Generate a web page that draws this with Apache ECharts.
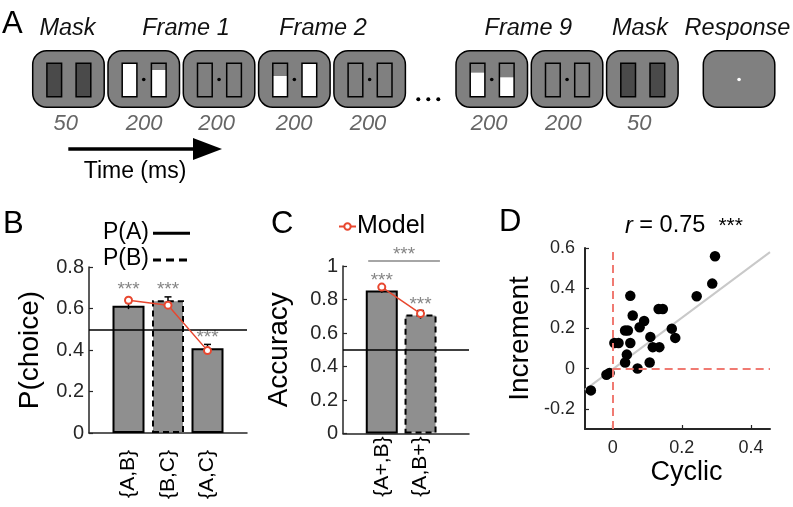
<!DOCTYPE html>
<html><head><meta charset="utf-8">
<script src="https://cdn.jsdelivr.net/npm/echarts@6/dist/echarts.min.js"></script>
<style>html,body{margin:0;padding:0;background:#fff}#c{width:793px;height:507px}</style>
</head><body><div id="c"></div>
<script>
// ---------- Panel A (schematic) ----------
const frameTitles = ['Mask', 'Frame 1', 'Frame 2', 'Frame 9', 'Mask', 'Response'];
const frameKinds = ['mask', 'stim', 'blank', 'stim', 'blank', 'stim', 'blank', 'mask', 'response'];
const durations = ['50', '200', '200', '200', '200', '200', '200', '50'];
const stimGrayTop = [[0.0, 0.2], [0.38, 0.0], [0.28, 0.42]];
const timeLabel = 'Time (ms)';

// ---------- Panel B ----------
const catsB = ['{A,B}', '{B,C}', '{A,C}'];
const barB = [0.613, 0.64, 0.408];
const errB = [0.016, 0.016, 0.019];
const modelB = [0.64, 0.616, 0.397];
const dashedB = [false, true, false];
const starYB = [0.69, 0.69, 0.458];
const chanceB = 0.5;
const legendB = ['P(A)', 'P(B)'];

// ---------- Panel C ----------
const catsC = ['{A+,B}', '{A,B+}'];
const barC = [0.853, 0.71];
const errC = [0.012, 0.024];
const modelC = [0.874, 0.716];
const dashedC = [false, true];
const starYC = [0.912, 0.767];
const chanceC = 0.5;
const bracketC = {x1: 0.65, x2: 2.5, y: 1.03, starY: 1.065};

// ---------- Panel D ----------
const cyclic = [0.296, 0.288, 0.243, 0.051, 0.133, 0.145, 0.058, 0.091, 0.078, 0.036, 0.044, 0.171, 0.181, 0.109, 0.005, 0.017, 0.051, 0.116, 0.135, 0.041, 0.036, 0.107, 0.072, -0.018, -0.009, -0.063];
const increment = [0.559, 0.423, 0.36, 0.362, 0.297, 0.297, 0.264, 0.237, 0.206, 0.19, 0.19, 0.199, 0.153, 0.158, 0.128, 0.128, 0.128, 0.107, 0.107, 0.07, 0.031, 0.031, 0.001, -0.03, -0.021, -0.108];
const fitSlope = 1.28, fitIntercept = -0.003;
const rText = '0.75';
const xRangeD = [-0.08, 0.455];
const yRangeD = [-0.3, 0.6];
const xTicksD = [0, 0.2, 0.4];
const yTicksD = [-0.2, 0, 0.2, 0.4, 0.6];

// ---------- styling ----------
const FF = '"Liberation Sans", Arial, Helvetica, sans-serif';
const AX = '#262626';
const RED = '#e8472f';
const BARFILL = '#8f8f8f';
const STAR = '#666666';

const chart = echarts.init(document.getElementById('c'), null, {renderer: 'canvas'});

// Panel A graphic
const G = [];
const BW = 71.5, BH = 56.5, BY = 50.7, STEP = 75.3;
const lefts = [];
for (let i = 0; i < 5; i++) lefts.push(32.7 + i * STEP);
for (let i = 0; i < 3; i++) lefts.push(456 + i * STEP);
lefts.push(703.3);
let stimIdx = 0;
frameKinds.forEach((k, i) => {
  const L = lefts[i];
  G.push({type: 'rect', shape: {x: L, y: BY, width: BW, height: BH, r: 14},
    style: {fill: '#808080', stroke: '#000', lineWidth: 1.5}});
  const cx = L + BW / 2, cy = BY + BH / 2 + 0.5;
  const rx = [L + 14.2, L + 43.4], ry = 63.3, rw = 14.7, rh = 33.4;
  if (k === 'mask') {
    rx.forEach(x => G.push({type: 'rect', shape: {x, y: ry, width: rw, height: rh},
      style: {fill: '#4a4a4a', stroke: '#000', lineWidth: 1.5}}));
  } else if (k === 'blank') {
    rx.forEach(x => G.push({type: 'rect', shape: {x, y: ry, width: rw, height: rh},
      style: {fill: 'none', stroke: '#000', lineWidth: 1.5}}));
    G.push({type: 'circle', shape: {cx, cy, r: 1.8}, style: {fill: '#000'}});
  } else if (k === 'stim') {
    const fr = stimGrayTop[stimIdx++];
    rx.forEach((x, j) => {
      G.push({type: 'rect', shape: {x, y: ry, width: rw, height: rh}, style: {fill: '#fff'}});
      if (fr[j] > 0) G.push({type: 'rect', shape: {x, y: ry, width: rw, height: rh * fr[j]}, style: {fill: '#808080'}});
      G.push({type: 'rect', shape: {x, y: ry, width: rw, height: rh}, style: {fill: 'none', stroke: '#000', lineWidth: 1.5}});
    });
    G.push({type: 'circle', shape: {cx, cy, r: 1.8}, style: {fill: '#000'}});
  } else if (k === 'response') {
    G.push({type: 'circle', shape: {cx, cy, r: 1.8}, style: {fill: '#fff'}});
  }
});
// ellipsis
[418.3, 428.3, 438.3].forEach(x => G.push({type: 'circle', shape: {cx: x, cy: 99.3, r: 2}, style: {fill: '#000'}}));
// titles
const titleX = [67.5, 186, 323, 528.3, 640, 737.5];
frameTitles.forEach((t, i) => G.push({type: 'text', style: {text: t, x: titleX[i], y: 28,
  font: 'italic 23.5px ' + FF, fill: '#111', align: 'center', verticalAlign: 'middle'}}));
const durX = [65.8, 144.2, 216.7, 294.2, 368, 489.2, 563.3, 639.2];
durations.forEach((t, i) => G.push({type: 'text', style: {text: t, x: durX[i], y: 124,
  font: 'italic 22px ' + FF, fill: '#666', align: 'center', verticalAlign: 'middle'}}));
// arrow
G.push({type: 'line', shape: {x1: 68.3, y1: 149, x2: 200, y2: 149}, style: {stroke: '#000', lineWidth: 3.5}});
G.push({type: 'polygon', shape: {points: [[193, 138], [222, 149], [193, 160]]}, style: {fill: '#000'}});
G.push({type: 'text', style: {text: timeLabel, x: 135, y: 172, font: '23px ' + FF, fill: '#000', align: 'center', verticalAlign: 'middle'}});
// panel letters
[['A', 2, 24], ['B', 3, 224], ['C', 271, 224], ['D', 499, 222]].forEach(([t, x, y]) =>
  G.push({type: 'text', style: {text: t, x, y, font: '31px ' + FF, fill: '#000', align: 'left', verticalAlign: 'middle'}}));
// B legend
G.push({type: 'text', style: {text: legendB[0], x: 103, y: 233, font: '23px ' + FF, fill: '#000', align: 'left', verticalAlign: 'middle'}});
G.push({type: 'line', shape: {x1: 153, y1: 233.3, x2: 190, y2: 233.3}, style: {stroke: '#000', lineWidth: 3}});
G.push({type: 'text', style: {text: legendB[1], x: 103, y: 259, font: '23px ' + FF, fill: '#000', align: 'left', verticalAlign: 'middle'}});
G.push({type: 'line', shape: {x1: 153, y1: 260, x2: 190, y2: 260}, style: {stroke: '#000', lineWidth: 3, lineDash: [8, 5]}});
// D r label
G.push({type: 'text', style: {text: '{i|r} = ' + rText + '  {s|***}', x: 625, y: 226, font: '23.5px ' + FF, fill: '#000',
  align: 'left', verticalAlign: 'middle',
  rich: {i: {fontStyle: 'italic', fontSize: 23.5, fontFamily: FF}, s: {fontSize: 21, fontFamily: FF}}}});

function errSeries(xi, yi, vals, errs) {
  return {
    type: 'custom', xAxisIndex: xi, yAxisIndex: yi, silent: true, z: 3,
    data: vals.map((v, i) => [i + 1, v - errs[i], v + errs[i]]),
    renderItem: (params, api) => {
      const lo = api.coord([api.value(0), api.value(1)]);
      const hi = api.coord([api.value(0), api.value(2)]);
      const s = {stroke: '#000', lineWidth: 1.5};
      return {type: 'group', children: [
        {type: 'line', shape: {x1: hi[0], y1: lo[1], x2: hi[0], y2: hi[1]}, style: s},
        {type: 'line', shape: {x1: hi[0] - 3.5, y1: hi[1], x2: hi[0] + 3.5, y2: hi[1]}, style: s}
      ]};
    }
  };
}
function barSeries(xi, yi, vals, dashed, chance) {
  return {
    type: 'bar', xAxisIndex: xi, yAxisIndex: yi, barWidth: 32, z: 2,
    data: vals.map((v, i) => ({value: [i + 1, v], itemStyle: {borderType: dashed[i] ? [6, 4] : 'solid'}})),
    itemStyle: {color: BARFILL, borderColor: '#000', borderWidth: 2},
    markLine: {silent: true, symbol: 'none', label: {show: false}, animation: false,
      lineStyle: {color: '#000', width: 1.5, type: 'solid'}, data: [{yAxis: chance}]}
  };
}
function modelSeries(xi, yi, vals) {
  return {
    name: 'Model', type: 'line', xAxisIndex: xi, yAxisIndex: yi, z: 5,
    data: vals.map((v, i) => [i + 1, v]),
    symbol: 'emptyCircle', symbolSize: 7,
    lineStyle: {color: RED, width: 1.5}, itemStyle: {color: RED, borderWidth: 1.5}
  };
}
function starSeries(xi, yi, pts) {
  return {
    type: 'scatter', xAxisIndex: xi, yAxisIndex: yi, symbolSize: 0, clip: false, silent: true,
    data: pts,
    label: {show: true, position: 'inside', formatter: '***', color: STAR, fontSize: 19, fontFamily: FF}
  };
}

const yLabel = (fs, m) => ({color: AX, fontSize: fs, fontFamily: FF, margin: m});
const axLine = {show: true, onZero: false, lineStyle: {color: AX, width: 1.5}};
const axLineD = {show: true, onZero: false, lineStyle: {color: AX, width: 2}};
const tickIn = {show: true, inside: true, length: 4, lineStyle: {color: AX, width: 1.2}};

const option = {
  animation: false,
  textStyle: {fontFamily: FF},
  graphic: G,
  legend: {data: ['Model'], left: 333, top: 209, itemWidth: 17, itemHeight: 8, itemGap: 2,
    textStyle: {fontSize: 25, color: '#000', fontFamily: FF, padding: [0, 0, 0, -4]}},
  grid: [
    {left: 89, top: 267, width: 158, height: 166},
    {left: 343, top: 266, width: 126, height: 167.5},
    {left: 585, top: 248, width: 185, height: 181}
  ],
  xAxis: [
    {gridIndex: 0, type: 'value', min: 0, max: 4, axisLine: axLine, axisTick: {show: false}, splitLine: {show: false},
      axisLabel: {customValues: [1, 2, 3], formatter: v => catsB[Math.round(v) - 1], rotate: 90, fontSize: 21, color: '#000', fontFamily: FF, margin: 17}},
    {gridIndex: 1, type: 'value', min: 0, max: 3.25, axisLine: axLine, axisTick: {show: false}, splitLine: {show: false},
      axisLabel: {customValues: [1, 2], formatter: v => catsC[Math.round(v) - 1], rotate: 90, fontSize: 21, color: '#000', fontFamily: FF, margin: 3}},
    {gridIndex: 2, type: 'value', min: xRangeD[0], max: xRangeD[1], axisLine: axLineD,
      axisTick: Object.assign({customValues: xTicksD}, tickIn), splitLine: {show: false},
      axisLabel: Object.assign({customValues: xTicksD}, yLabel(18, 10)),
      name: 'Cyclic', nameLocation: 'middle', nameGap: 30, nameTextStyle: {fontSize: 27, color: '#000', fontFamily: FF, padding: [0, 0, 0, 18]}}
  ],
  yAxis: [
    {gridIndex: 0, type: 'value', min: 0, max: 0.8, interval: 0.2, axisLine: axLine, axisTick: tickIn, splitLine: {show: false},
      axisLabel: yLabel(20, 5),
      name: 'P(choice)', nameLocation: 'middle', nameGap: 45, nameTextStyle: {fontSize: 28, color: '#000', fontFamily: FF}},
    {gridIndex: 1, type: 'value', min: 0, max: 1, interval: 0.2, axisLine: axLine, axisTick: tickIn, splitLine: {show: false},
      axisLabel: yLabel(20, 5),
      name: 'Accuracy', nameLocation: 'middle', nameGap: 50, nameTextStyle: {fontSize: 28, color: '#000', fontFamily: FF}},
    {gridIndex: 2, type: 'value', min: yRangeD[0], max: yRangeD[1], axisLine: axLineD,
      axisTick: Object.assign({customValues: yTicksD}, tickIn), splitLine: {show: false},
      axisLabel: Object.assign({customValues: yTicksD}, yLabel(18, 10)),
      name: 'Increment', nameLocation: 'middle', nameGap: 51, nameTextStyle: {fontSize: 28, color: '#000', fontFamily: FF}}
  ],
  series: [
    barSeries(0, 0, barB, dashedB, chanceB),
    errSeries(0, 0, barB, errB),
    modelSeries(0, 0, modelB),
    starSeries(0, 0, starYB.map((v, i) => [i + 1, v])),

    barSeries(1, 1, barC, dashedC, chanceC),
    errSeries(1, 1, barC, errC),
    modelSeries(1, 1, modelC),
    starSeries(1, 1, starYC.map((v, i) => [i + 1, v]).concat([[(bracketC.x1 + bracketC.x2) / 2, bracketC.starY]])),
    {type: 'line', xAxisIndex: 1, yAxisIndex: 1, clip: false, silent: true, symbol: 'none',
      data: [[bracketC.x1, bracketC.y], [bracketC.x2, bracketC.y]], lineStyle: {color: '#888', width: 1.5}},

    {type: 'line', xAxisIndex: 2, yAxisIndex: 2, symbol: 'none', silent: true, z: 1,
      data: xRangeD.map(x => [x, fitIntercept + fitSlope * x]), lineStyle: {color: '#c9c9c9', width: 2}},
    {type: 'scatter', xAxisIndex: 2, yAxisIndex: 2, symbolSize: 10.5, z: 4,
      data: cyclic.map((x, i) => [x, increment[i]]), itemStyle: {color: '#000', opacity: 1},
      markLine: {silent: true, symbol: 'none', label: {show: false}, animation: false,
        lineStyle: {color: '#f07a72', width: 2, type: [8, 5]},
        data: [{xAxis: 0}, [{coord: [0, 0]}, {coord: [xRangeD[1], 0]}]]}}
  ]
};
chart.setOption(option);
</script>
</body></html>
